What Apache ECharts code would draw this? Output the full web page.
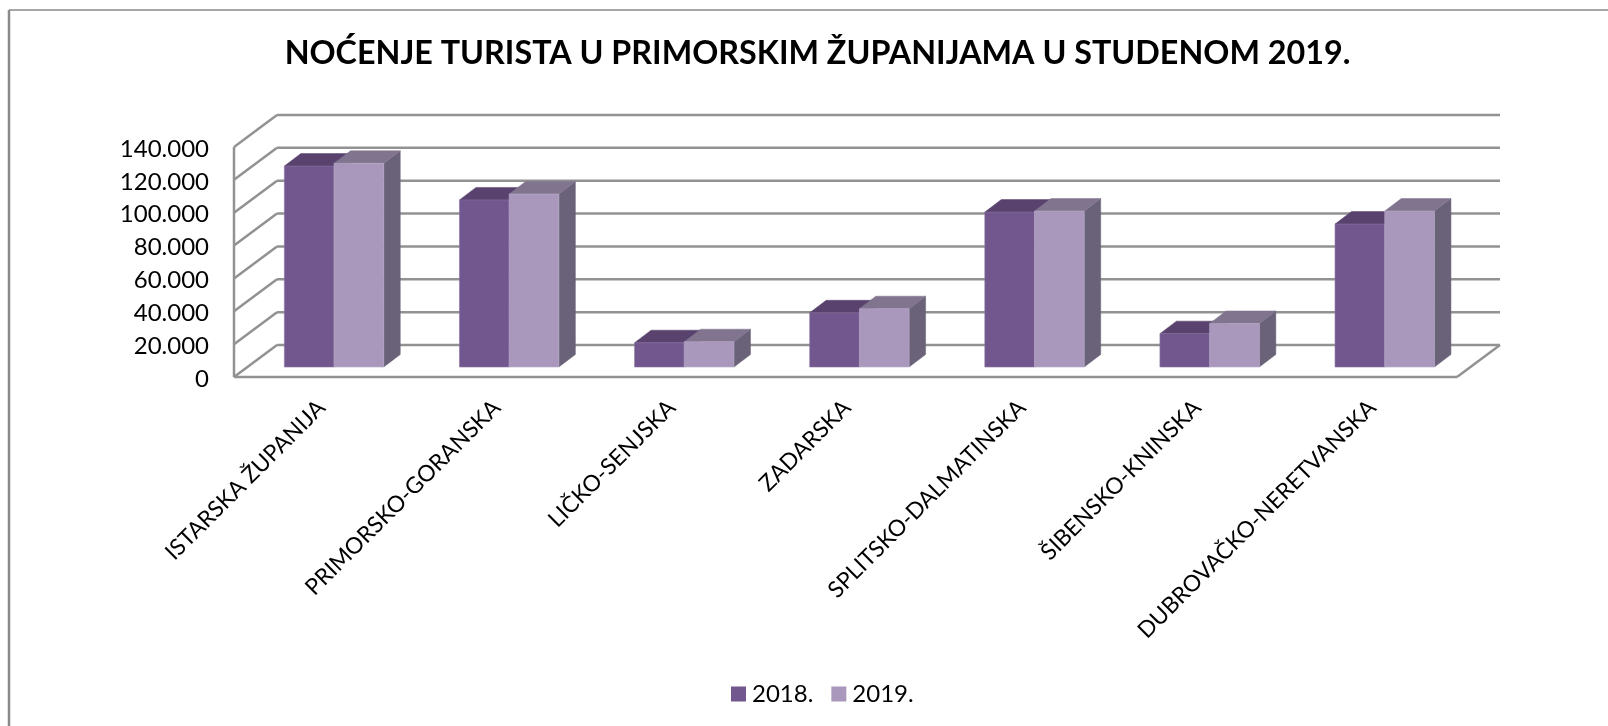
<!DOCTYPE html>
<html>
<head>
<meta charset="utf-8">
<style>html,body{margin:0;padding:0;background:#fff}#c{width:1608px;height:726px}</style>
<script src="https://cdn.jsdelivr.net/npm/echarts@6/dist/echarts.min.js"></script>
</head>
<body>
<div id="c"></div>
<script>
const titleText = 'NOĆENJE TURISTA U PRIMORSKIM ŽUPANIJAMA U STUDENOM 2019.';
const categories = ['ISTARSKA ŽUPANIJA','PRIMORSKO-GORANSKA','LIČKO-SENJSKA','ZADARSKA','SPLITSKO-DALMATINSKA','ŠIBENSKO-KNINSKA','DUBROVAČKO-NERETVANSKA'];
const values2018 = [122300,101700,14800,33000,94300,20300,87000];
const values2019 = [124000,105300,15400,35500,94900,26500,94900];
const yTicks = [0,20000,40000,60000,80000,100000,120000,140000];

const FONT = 'Lato, Carlito, sans-serif';
const WALL = '#929292';
const DX = 43, DY = -32;          // depth of the chart box
const BDX = 16.5, BDY = -12.5;    // depth of a bar
const OFX = 12.5, OFY = -10;      // bars stand inside the box
const BAR_W = 49.7;
const TRIM = 2.8;                 // floor ends slightly before the last band

const chart = echarts.init(document.getElementById('c'), null, {renderer: 'canvas'});

function wallItem(params, api) {
  const cs = params.coordSys;
  const y = api.coord([0, api.value(1)])[1];
  const x0 = cs.x, x1 = cs.x + cs.width - TRIM;
  const st = {stroke: WALL, lineWidth: 2.5, fill: null};
  const children = [
    {type:'line', shape:{x1:x0+DX, y1:y+DY, x2:x1+DX, y2:y+DY}, style:st},
    {type:'line', shape:{x1:x0, y1:y, x2:x0+DX, y2:y+DY}, style:st}
  ];
  if (api.value(1) === 0) {
    children.push({type:'line', shape:{x1:x0, y1:y, x2:x1, y2:y}, style:st});
    children.push({type:'line', shape:{x1:x1, y1:y, x2:x1+DX, y2:y+DY}, style:st});
    children.push({type:'line', shape:{x1:x0, y1:y, x2:x0, y2:cs.y}, style:st});
  }
  return {type:'group', children};
}

function barRenderer(seriesIndex, front, top, side) {
  return function (params, api) {
    const c = api.coord([api.value(0), api.value(1)]);
    const b = api.coord([api.value(0), 0]);
    const xl = c[0] + OFX + (seriesIndex === 0 ? -BAR_W : 0);
    const xr = xl + BAR_W;
    const yt = c[1] + OFY, yb = b[1] + OFY;
    const edge = seriesIndex === 0 ? '#8a74a3' : '#b9abc9';
    return {type:'group', children:[
      {type:'polygon', shape:{points:[[xr,yt],[xr+BDX,yt+BDY],[xr+BDX,yb+BDY],[xr,yb]]}, style:{fill:side, stroke:side, lineWidth:0.5}},
      {type:'polygon', shape:{points:[[xl,yt],[xl+BDX,yt+BDY],[xr+BDX,yt+BDY],[xr,yt]]}, style:{fill:top, stroke:top, lineWidth:0.5}},
      {type:'rect', shape:{x:xl, y:yt, width:BAR_W, height:yb-yt}, style:{fill:front, stroke:edge, lineWidth:0.6}}
    ]};
  };
}

const toPairs = arr => arr.map((v,i) => [i,v]);

chart.setOption({
  animation: false,
  backgroundColor: '#fff',
  title: {
    text: titleText, left: 812.5, top: 33, textAlign: 'center',
    textStyle: {fontFamily: FONT, fontWeight: 'bold', fontSize: 32.3, color: '#000'}
  },
  legend: {
    left: 726, top: 677, itemWidth: 15, itemHeight: 15, itemGap: 18, icon: 'rect',
    textStyle: {fontFamily: FONT, fontSize: 24, color: '#000', padding: [0,0,0,1]},
    data: [
      {name:'2018.', itemStyle:{color:'#72578e'}},
      {name:'2019.', itemStyle:{color:'#a998bc'}}
    ]
  },
  grid: {left: 234, top: 147, width: 1225.8, height: 230},
  xAxis: {
    type: 'category', data: categories,
    axisLine: {show:false}, axisTick: {show:false}, splitLine: {show:false},
    axisLabel: {interval:0, rotate:45, margin:27, fontFamily:FONT, fontSize:22.7, color:'#000'}
  },
  yAxis: {
    type: 'value', min: 0, max: 140000, interval: 20000,
    axisLine: {show:false}, axisTick: {show:false}, splitLine: {show:false},
    axisLabel: {
      margin: 25, color: '#000',
      formatter: v => '{n|' + String(v).replace(/\B(?=(\d{3})+$)/g, '.') + '}',
      rich: {n: {fontFamily: FONT, fontSize: 24, color: '#000', padding: [4,0,0,0]}}
    }
  },
  graphic: [
    {type:'line', silent:true, shape:{x1:9,y1:10,x2:1608,y2:10}, style:{stroke:'#8a8a8a', lineWidth:1.5}},
    {type:'line', silent:true, shape:{x1:9,y1:10,x2:9,y2:726}, style:{stroke:'#8a8a8a', lineWidth:2.5}}
  ],
  series: [
    {name:'walls', type:'custom', silent:true, clip:false, z:1,
     data: yTicks.map(t => [0,t]), encode:{x:0,y:1}, renderItem: wallItem},
    {name:'2018.', type:'custom', silent:true, clip:false, z:2,
     data: toPairs(values2018), encode:{x:0,y:1},
     itemStyle:{color:'#72578e'},
     renderItem: barRenderer(0,'#72578e','#59426d','#59506a')},
    {name:'2019.', type:'custom', silent:true, clip:false, z:3,
     data: toPairs(values2019), encode:{x:0,y:1},
     itemStyle:{color:'#a998bc'},
     renderItem: barRenderer(1,'#a998bc','#80748e','#6a6279')}
  ]
});
</script>
</body>
</html>
